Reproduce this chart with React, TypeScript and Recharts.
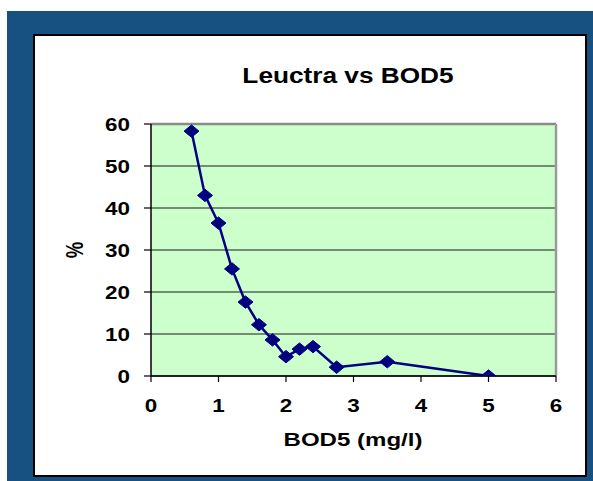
import React from 'react';
import { LineChart, Line, XAxis, YAxis, CartesianGrid, ReferenceLine } from 'recharts';

const bod5 = [0.6, 0.8, 1.0, 1.2, 1.4, 1.6, 1.8, 2.0, 2.2, 2.4, 2.75, 3.5, 5.0];
const leuctraPct = [58.3, 43.0, 36.4, 25.5, 17.6, 12.2, 8.6, 4.6, 6.4, 7.0, 2.1, 3.4, 0];
const xTicks = [0, 1, 2, 3, 4, 5, 6];
const yTicks = [0, 10, 20, 30, 40, 50, 60];
const titleText = 'Leuctra vs BOD5';
const xLabel = 'BOD5 (mg/l)';
const yLabel = '%';

const data = bod5.map((x, i) => ({ x, y: leuctraPct[i] }));

const FONT = '"Liberation Sans", Arial, sans-serif';

const Diamond = (props: any) => {
  const { cx, cy } = props;
  if (cx == null || cy == null) return null;
  const w = 7.5;
  const h = 6.2;
  return (
    <polygon
      points={`${cx - w},${cy} ${cx},${cy - h} ${cx + w},${cy} ${cx},${cy + h}`}
      fill="#000080"
      stroke="#000080"
      strokeWidth={1}
    />
  );
};

const YTick = (props: any) => {
  const { x, y, payload } = props;
  return (
    <text
      transform={`translate(${x - 12},${y + 7}) scale(1.18,1)`}
      textAnchor="end"
      fontFamily={FONT}
      fontWeight="bold"
      fontSize={19}
      fill="#000"
    >
      {payload.value}
    </text>
  );
};

const XTick = (props: any) => {
  const { x, y, payload } = props;
  return (
    <text
      transform={`translate(${x},${y + 28}) scale(1.18,1)`}
      textAnchor="middle"
      fontFamily={FONT}
      fontWeight="bold"
      fontSize={19}
      fill="#000"
    >
      {payload.value}
    </text>
  );
};

export default function App() {
  return (
    <div style={{ position: 'absolute', left: 0, top: 0, width: 593, height: 481, background: '#fff', overflow: 'hidden' }}>
      <div style={{ position: 'absolute', left: 7, top: 11, width: 586, height: 470, background: '#165181' }} />
      <div
        style={{
          position: 'absolute',
          left: 33,
          top: 34,
          width: 550,
          height: 439,
          background: '#fff',
          border: '2px solid #000',
        }}
      />
      <div style={{ position: 'absolute', left: 0, top: 0 }}>
        <LineChart
          width={593}
          height={481}
          data={data}
          margin={{ top: 124, right: 37, bottom: 0, left: 0 }}
        >
          <CartesianGrid horizontal vertical={false} stroke="#1a1a1a" strokeWidth={1} fill="#ccffcc" fillOpacity={1} />
          <XAxis
            dataKey="x"
            type="number"
            domain={[0, 6]}
            ticks={xTicks}
            interval={0}
            height={105}
            tickSize={6}
            tickMargin={2}
            axisLine={{ stroke: '#000', strokeWidth: 1.5 }}
            tickLine={{ stroke: '#000', strokeWidth: 1.2 }}
            tick={<XTick />}
            allowDataOverflow
          />
          <YAxis
            type="number"
            domain={[0, 60]}
            ticks={yTicks}
            interval={0}
            width={151}
            tickSize={7}
            tickMargin={2}
            axisLine={{ stroke: '#000', strokeWidth: 1.5 }}
            tickLine={{ stroke: '#000', strokeWidth: 1.2 }}
            tick={<YTick />}
            allowDataOverflow
          />
          <ReferenceLine y={60} stroke="#8a8a8a" strokeWidth={2.5} />
          <ReferenceLine x={6} stroke="#9a9a9a" strokeWidth={2.5} />
          <Line
            type="linear"
            dataKey="y"
            stroke="#000080"
            strokeWidth={2.5}
            dot={<Diamond />}
            activeDot={false}
            isAnimationActive={false}
          />
        </LineChart>
      </div>
      <svg width={593} height={481} style={{ position: 'absolute', left: 0, top: 0, pointerEvents: 'none' }}>
        <text
          transform="translate(348,82.5) scale(1.22,1)"
          textAnchor="middle"
          fontFamily={FONT}
          fontWeight="bold"
          fontSize={21.5}
          fill="#000"
        >
          {titleText}
        </text>
        <text
          transform="translate(353,446) scale(1.3,1)"
          textAnchor="middle"
          fontFamily={FONT}
          fontWeight="bold"
          fontSize={18.5}
          fill="#000"
        >
          {xLabel}
        </text>
        <text
          transform="translate(83,250) rotate(-90) scale(1,1.25)"
          textAnchor="middle"
          fontFamily={FONT}
          fontWeight="bold"
          fontSize={18.5}
          fill="#000"
        >
          {yLabel}
        </text>
      </svg>
    </div>
  );
}
